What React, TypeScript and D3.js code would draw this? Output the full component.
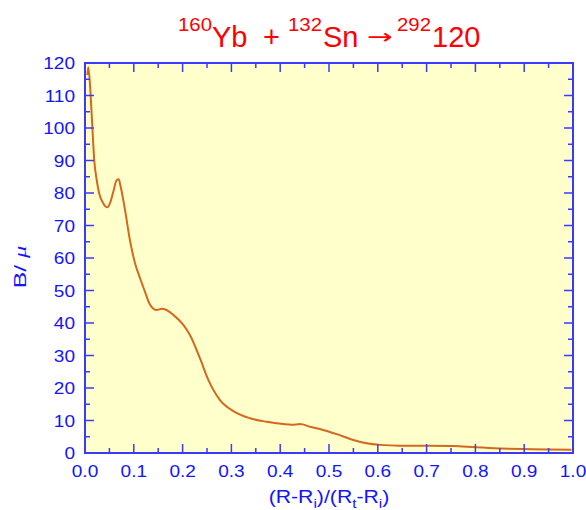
import React from "react";
import * as d3 from "d3";

const xValues = [0.0048, 0.0068, 0.0116, 0.015, 0.019, 0.024, 0.029, 0.0375, 0.0457, 0.051, 0.058, 0.065, 0.069, 0.073, 0.082, 0.092, 0.1025, 0.113, 0.123, 0.133, 0.147, 0.157, 0.167, 0.181, 0.2015, 0.215, 0.2357, 0.2527, 0.2766, 0.304, 0.338, 0.372, 0.406, 0.4235, 0.4406, 0.461, 0.488, 0.516, 0.55, 0.577, 0.6045, 0.645, 0.70, 0.7547, 0.80, 0.85, 0.898, 0.997];
const bValues = [116.3, 118.7, 110, 100.4, 90, 84, 79.9, 76.8, 75.6, 76.8, 80.4, 84, 84.2, 82, 74.8, 65.5, 58.4, 53.7, 49.6, 45.7, 44, 44.4, 44, 42.5, 39.4, 36.3, 29.1, 22.5, 16.3, 12.9, 10.7, 9.6, 8.9, 8.7, 8.9, 8.1, 7.1, 5.8, 4.0, 3.0, 2.5, 2.25, 2.25, 2.15, 1.75, 1.4, 1.2, 1.0];

const xMajorTicks = [0, 0.1, 0.2, 0.3, 0.4, 0.5, 0.6, 0.7, 0.8, 0.9, 1.0];
const xMinorTicks = [0.05, 0.15, 0.25, 0.35, 0.45, 0.55, 0.65, 0.75, 0.85, 0.95];
const yMajorTicks = [0, 10, 20, 30, 40, 50, 60, 70, 80, 90, 100, 110, 120];
const yMinorTicks = [5, 15, 25, 35, 45, 55, 65, 75, 85, 95, 105, 115];

const FONT = "'Liberation Sans', Arial, Helvetica, sans-serif";
const AXIS = "#3a3aff";
const TEXT = "#1414ff";
const RED = "#ff0000";

export default function App() {
  const left = 85, right = 573, top = 63, bottom = 453;
  const x = d3.scaleLinear().domain([0, 1]).range([left, right]);
  const y = d3.scaleLinear().domain([0, 120]).range([bottom, top]);
  const data = xValues.map((v, i) => [v, bValues[i]] as [number, number]);
  const line = d3.line<[number, number]>().x(d => x(d[0])).y(d => y(d[1])).curve(d3.curveMonotoneX);
  const majorLen = 9, minorLen = 5;
  const supY = 31, mainY = 47;
  return (
    <svg width={586} height={510} style={{ position: "absolute", left: 0, top: 0 }} fontFamily={FONT}>
      <rect x={left} y={top} width={right - left} height={bottom - top} fill="#ffffcc" />
      <path d={line(data) || ""} fill="none" stroke="#d2691e" strokeWidth={2} />
      <g stroke={AXIS} strokeWidth={1.5}>
        {xMajorTicks.map(t => (
          <g key={"xm" + t}>
            <line x1={x(t)} x2={x(t)} y1={bottom} y2={bottom - majorLen} />
            <line x1={x(t)} x2={x(t)} y1={top} y2={top + majorLen} />
          </g>
        ))}
        {xMinorTicks.map(t => (
          <g key={"xn" + t}>
            <line x1={x(t)} x2={x(t)} y1={bottom} y2={bottom - minorLen} />
            <line x1={x(t)} x2={x(t)} y1={top} y2={top + minorLen} />
          </g>
        ))}
        {yMajorTicks.map(t => (
          <g key={"ym" + t}>
            <line x1={left} x2={left + majorLen} y1={y(t)} y2={y(t)} />
            <line x1={right} x2={right - majorLen} y1={y(t)} y2={y(t)} />
          </g>
        ))}
        {yMinorTicks.map(t => (
          <g key={"yn" + t}>
            <line x1={left} x2={left + minorLen} y1={y(t)} y2={y(t)} />
            <line x1={right} x2={right - minorLen} y1={y(t)} y2={y(t)} />
          </g>
        ))}
      </g>
      <rect x={left} y={top} width={right - left} height={bottom - top} fill="none" stroke={AXIS} strokeWidth={2} />
      <g fill={TEXT} fontSize={17}>
        {xMajorTicks.map(t => (
          <g key={"xl" + t} transform={`translate(${x(t)},${bottom + 24}) scale(1.12,1)`}>
            <text x={0} y={0} textAnchor="middle">{t.toFixed(1)}</text>
          </g>
        ))}
        {yMajorTicks.map(t => (
          <g key={"yl" + t} transform={`translate(${left - 10},${y(t) + 6}) scale(1.12,1)`}>
            <text x={0} y={0} textAnchor="end">{t}</text>
          </g>
        ))}
      </g>
      <g transform="translate(329,503) scale(1.18,1)">
        <text x={0} y={0} textAnchor="middle" fill={TEXT} fontSize={18}>
          (R-R<tspan fontSize={13} dy={5}>i</tspan><tspan dy={-5}>)/(R</tspan><tspan fontSize={13} dy={5}>t</tspan><tspan dy={-5}>-R</tspan><tspan fontSize={13} dy={5}>i</tspan><tspan dy={-5}>)</tspan>
        </text>
      </g>
      <g transform="translate(26,267) rotate(-90) scale(1.45,1)">
        <text x={0} y={0} textAnchor="middle" fill={TEXT} fontSize={17} xmlSpace="preserve">
          B/ <tspan fontStyle="italic" fontFamily="'Liberation Serif', serif" fontSize={17}>μ</tspan>
        </text>
      </g>
      <g fill={RED}>
        <text x={178} y={supY} fontSize={19} textLength={34} lengthAdjust="spacingAndGlyphs">160</text>
        <text x={212} y={mainY} fontSize={29}>Yb</text>
        <text x={263} y={mainY} fontSize={29}>+</text>
        <text x={288} y={supY} fontSize={19} textLength={34} lengthAdjust="spacingAndGlyphs">132</text>
        <text x={323} y={mainY} fontSize={29}>Sn</text>
        <text x={367} y={44} fontSize={21} fontFamily="'DejaVu Sans', sans-serif" textLength={26} lengthAdjust="spacingAndGlyphs">→</text>
        <text x={397} y={supY} fontSize={19} textLength={34} lengthAdjust="spacingAndGlyphs">292</text>
        <text x={432} y={mainY} fontSize={29}>120</text>
      </g>
    </svg>
  );
}
